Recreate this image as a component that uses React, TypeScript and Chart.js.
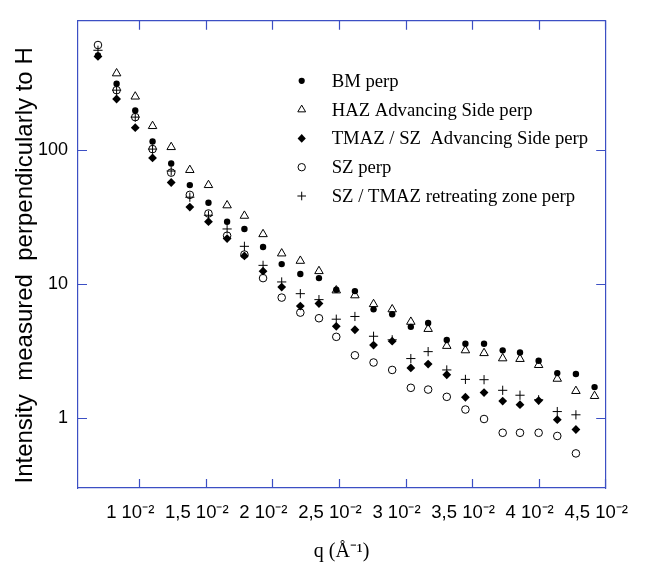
import React, { useEffect, useRef } from 'react';
import { Chart, registerables } from 'chart.js';

Chart.register(...registerables);

const AXIS_BLUE = '#3c4fc4';

// q positions of the measured points (Å^-1)
const qValues = [
  0.0069, 0.0083, 0.0097, 0.011, 0.0124, 0.0138, 0.0152, 0.0166, 0.0179, 0.0193,
  0.0207, 0.0221, 0.0235, 0.0248, 0.0262, 0.0276, 0.029, 0.0304, 0.0317, 0.0331,
  0.0345, 0.0359, 0.0373, 0.0386, 0.04, 0.0414, 0.0428, 0.0442,
];

const bmPerp = [
  505, 311, 196, 115, 78.9, 54.4, 40.2, 29.0, 25.6, 18.8,
  14.0, 11.8, 11.0, 9.0, 8.8, 6.43, 5.91, 4.76, 5.08, 3.8,
  3.56, 3.56, 3.18, 3.06, 2.66, 2.15, 2.12, 1.69,
];

const hazPerp = [
  null, 371, 249, 150, 104.5, 70.5, 54.4, 38.4, 32.1, 23.4,
  16.8, 14.8, 12.4, 8.9, 8.18, 7.03, 6.43, 5.19, 4.59, 3.43,
  3.18, 3.03, 2.77, 2.74, 2.47, 1.95, 1.58, 1.45,
];

const tmazPerp = [
  497, 239, 146, 86.8, 56.9, 37.3, 29.0, 21.7, 16.1, 12.4,
  9.43, 6.8, 7.11, 4.8, 4.53, 3.48, 3.72, 2.35, 2.51, 2.09,
  1.42, 1.54, 1.33, 1.25, 1.34, 0.966, 0.816, null,
];

const szPerp = [
  604, 278, 175, 101, 67.4, 46.0, 33.4, 22.8, 16.5, 11.0,
  7.87, 6.08, 5.52, 4.01, 2.92, 2.58, 2.27, 1.67, 1.62, 1.43,
  1.15, 0.977, 0.771, 0.771, 0.771, 0.73, 0.541, null,
];

const retreatPerp = [
  552, 278, 175, 101, 69.3, 44.2, 32.4, 25.6, 19.0, 13.7,
  10.3, 8.42, 7.6, 5.43, 5.69, 4.05, 3.81, 2.76, 3.11, 2.27,
  1.93, 1.92, 1.6, 1.47, 1.36, 1.11, 1.05, null,
];

const seriesNames = [
  'BM perp',
  'HAZ Advancing Side perp',
  'TMAZ / SZ  Advancing Side perp',
  'SZ perp',
  'SZ / TMAZ retreating zone perp',
];

const xTickValues = [0.01, 0.015, 0.02, 0.025, 0.03, 0.035, 0.04, 0.045];
const xTickLabels = ['1 10⁻²', '1,5 10⁻²', '2 10⁻²', '2,5 10⁻²', '3 10⁻²', '3,5 10⁻²', '4 10⁻²', '4,5 10⁻²'];
const yTickValues = [1, 10, 100];
const yTickLabels = ['1', '10', '100'];

const xTitle = 'q (Å⁻¹)';
const yTitle = 'Intensity  measured  perpendicularly to H';

const X_MIN = 0.0054;
const X_MAX = 0.045;
const Y_MIN = 0.2985;
const Y_MAX = 916;

const SANS = '"Liberation Sans", Arial, sans-serif';
const SERIF = '"Liberation Serif", "Times New Roman", serif';

function toPoints(vals: (number | null)[]) {
  return qValues
    .map((x, i) => ({ x, y: vals[i] }))
    .filter((p) => p.y !== null) as { x: number; y: number }[];
}

type Marker = 'dot' | 'tri' | 'dia' | 'ring' | 'plus';
const markers: Marker[] = ['dot', 'tri', 'dia', 'ring', 'plus'];

function drawMarker(ctx: CanvasRenderingContext2D, m: Marker, x: number, y: number) {
  ctx.save();
  ctx.fillStyle = '#000';
  ctx.strokeStyle = '#000';
  ctx.lineWidth = 1;
  ctx.beginPath();
  if (m === 'dot') {
    ctx.arc(x, y, 3.1, 0, Math.PI * 2);
    ctx.fill();
  } else if (m === 'tri') {
    const r = 4.5;
    ctx.moveTo(x, y - r);
    ctx.lineTo(x + r * 0.866, y + r * 0.5);
    ctx.lineTo(x - r * 0.866, y + r * 0.5);
    ctx.closePath();
    ctx.stroke();
  } else if (m === 'dia') {
    ctx.moveTo(x, y - 4.3);
    ctx.lineTo(x + 4.1, y);
    ctx.lineTo(x, y + 4.3);
    ctx.lineTo(x - 4.1, y);
    ctx.closePath();
    ctx.fill();
  } else if (m === 'ring') {
    ctx.arc(x, y, 3.7, 0, Math.PI * 2);
    ctx.stroke();
  } else {
    ctx.moveTo(x - 4.3, y);
    ctx.lineTo(x + 4.3, y);
    ctx.moveTo(x, y - 4.3);
    ctx.lineTo(x, y + 4.3);
    ctx.stroke();
  }
  ctx.restore();
}

const framePlugin = {
  id: 'frameTicksLegend',
  afterDraw(chart: any) {
    const { ctx, chartArea: a, scales } = chart;
    ctx.save();
    ctx.strokeStyle = AXIS_BLUE;
    ctx.lineWidth = 1.2;
    const L = 9;
    xTickValues.forEach((v) => {
      const px = Math.round(scales.x.getPixelForValue(v)) + 0.5;
      ctx.beginPath();
      ctx.moveTo(px, a.bottom);
      ctx.lineTo(px, a.bottom - L);
      ctx.moveTo(px, a.top);
      ctx.lineTo(px, a.top + L);
      ctx.stroke();
    });
    yTickValues.forEach((v) => {
      const py = Math.round(scales.y.getPixelForValue(v)) + 0.5;
      ctx.beginPath();
      ctx.moveTo(a.left, py);
      ctx.lineTo(a.left + L, py);
      ctx.moveTo(a.right, py);
      ctx.lineTo(a.right - L, py);
      ctx.stroke();
    });

    // y-axis title
    ctx.save();
    ctx.fillStyle = '#000';
    ctx.font = `24px ${SANS}`;
    ctx.textAlign = 'center';
    ctx.textBaseline = 'alphabetic';
    ctx.translate(32, (a.top + a.bottom) / 2 + 11);
    ctx.rotate(-Math.PI / 2);
    ctx.fillText(yTitle, 0, 0);
    ctx.restore();

    // legend
    const mx = a.left + 223.7;
    const tx = a.left + 253.7;
    const y0 = a.top + 60;
    const step = 28.8;
    ctx.fillStyle = '#000';
    ctx.font = `18.7px ${SERIF}`;
    ctx.textBaseline = 'middle';
    ctx.textAlign = 'left';
    seriesNames.forEach((name, i) => {
      const y = y0 + i * step;
      drawMarker(ctx, markers[i], mx, y);
      ctx.fillText(name, tx, y + 1);
    });
    ctx.restore();
  },
};

export default function App() {
  const canvasRef = useRef<HTMLCanvasElement | null>(null);

  useEffect(() => {
    const canvas = canvasRef.current;
    if (!canvas) return;
    const chart = new Chart(canvas, {
      type: 'scatter',
      data: {
        datasets: [
          {
            label: seriesNames[0],
            data: toPoints(bmPerp),
            pointStyle: 'circle',
            pointRadius: 3.2,
            backgroundColor: '#000',
            borderColor: '#000',
            borderWidth: 0,
          },
          {
            label: seriesNames[1],
            data: toPoints(hazPerp),
            pointStyle: 'triangle',
            pointRadius: 4.9,
            backgroundColor: 'rgba(0,0,0,0)',
            borderColor: '#000',
            borderWidth: 1,
          },
          {
            label: seriesNames[2],
            data: toPoints(tmazPerp),
            pointStyle: 'rectRot',
            pointRadius: 4.4,
            backgroundColor: '#000',
            borderColor: '#000',
            borderWidth: 0,
          },
          {
            label: seriesNames[3],
            data: toPoints(szPerp),
            pointStyle: 'circle',
            pointRadius: 3.8,
            backgroundColor: 'rgba(0,0,0,0)',
            borderColor: '#000',
            borderWidth: 1,
          },
          {
            label: seriesNames[4],
            data: toPoints(retreatPerp),
            pointStyle: 'cross',
            pointRadius: 4.6,
            backgroundColor: '#000',
            borderColor: '#000',
            borderWidth: 1,
          },
        ],
      },
      options: {
        animation: false,
        responsive: false,
        devicePixelRatio: 1,
        layout: { padding: 0 },
        plugins: {
          legend: { display: false },
          tooltip: { enabled: false },
        },
        scales: {
          x: {
            type: 'linear',
            position: 'bottom',
            min: X_MIN,
            max: X_MAX,
            afterBuildTicks: (s: any) => {
              s.ticks = xTickValues.map((v) => ({ value: v }));
            },
            afterFit: (s: any) => {
              s.height = 78;
            },
            grid: { display: false, drawTicks: false },
            border: { display: true, color: AXIS_BLUE, width: 1.2 },
            ticks: {
              autoSkip: false,
              maxRotation: 0,
              minRotation: 0,
              padding: 14,
              labelOffset: -9,
              color: '#000',
              font: { family: SANS, size: 18.5 },
              callback: (_v: any, i: number) => xTickLabels[i],
            },
            title: {
              display: true,
              text: xTitle,
              color: '#000',
              font: { family: SERIF, size: 20 },
              padding: { top: 0, bottom: 2 },
            },
          },
          x2: {
            type: 'linear',
            position: 'top',
            min: X_MIN,
            max: X_MAX,
            afterBuildTicks: (s: any) => {
              s.ticks = xTickValues.map((v) => ({ value: v }));
            },
            afterFit: (s: any) => {
              s.height = 12;
            },
            grid: { display: false, drawTicks: false },
            border: { display: true, color: AXIS_BLUE, width: 1.2 },
            ticks: { display: false },
          },
          y: {
            type: 'logarithmic',
            position: 'left',
            min: Y_MIN,
            max: Y_MAX,
            afterBuildTicks: (s: any) => {
              s.ticks = yTickValues.map((v) => ({ value: v }));
            },
            afterFit: (s: any) => {
              s.width = 78;
            },
            grid: { display: false, drawTicks: false },
            border: { display: true, color: AXIS_BLUE, width: 1.2 },
            ticks: {
              autoSkip: false,
              padding: 10,
              color: '#000',
              font: { family: SANS, size: 18 },
              callback: (_v: any, i: number) => yTickLabels[i],
            },
            title: { display: false },
          },
          y2: {
            type: 'logarithmic',
            position: 'right',
            min: Y_MIN,
            max: Y_MAX,
            afterBuildTicks: (s: any) => {
              s.ticks = yTickValues.map((v) => ({ value: v }));
            },
            afterFit: (s: any) => {
              s.width = 28;
            },
            grid: { display: false, drawTicks: false },
            border: { display: true, color: AXIS_BLUE, width: 1.2 },
            ticks: { display: false },
          },
        },
      },
      plugins: [framePlugin],
    } as any);
    return () => chart.destroy();
  }, []);

  return (
    <div style={{ position: 'absolute', left: 0, top: 0, width: 651, height: 566, background: '#fff' }}>
      <canvas ref={canvasRef} width={651} height={566} />
    </div>
  );
}
